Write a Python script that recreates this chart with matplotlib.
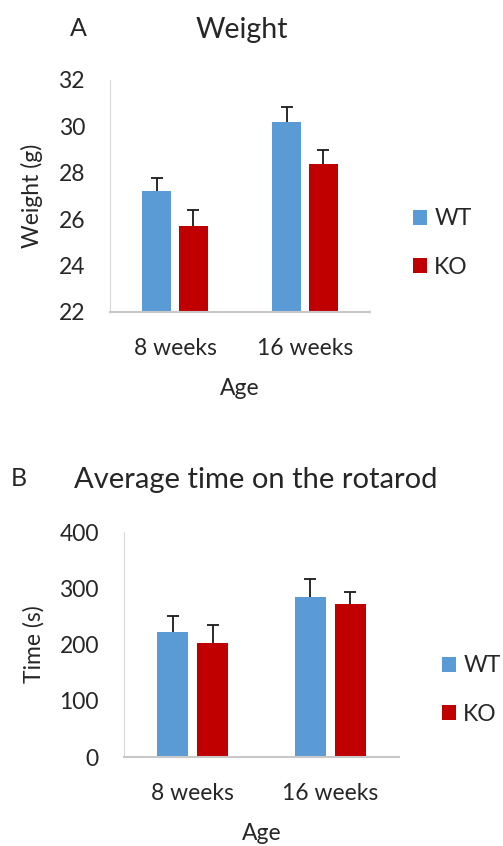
import matplotlib.pyplot as plt
import numpy as np

plt.rcParams['font.family'] = ['Lato', 'DejaVu Sans']

ages = ['8 weeks', '16 weeks']
groups = ['WT', 'KO']
colors = ['#5B9BD5', '#C00000']

# body weight (g), mean and SEM
weight_mean = {'WT': [27.2, 30.2], 'KO': [25.7, 28.4]}
weight_err = {'WT': [0.57, 0.65], 'KO': [0.70, 0.60]}

# rotarod latency (s), mean and SEM
rotarod_mean = {'WT': [222, 284], 'KO': [202, 272]}
rotarod_err = {'WT': [29, 33], 'KO': [33, 22]}

text_col = '#262626'
axis_col = '#D9D9D9'
fs = 16.5


def bar_panel(ax, means, errs, ylim, yticks, ylabel, width, offset):
    x = np.arange(len(ages))
    for i, g in enumerate(groups):
        pos = x + (offset if i else -offset)
        m = np.array(means[g], dtype=float)
        e = np.array(errs[g], dtype=float)
        ax.bar(pos, m, width, color=colors[i], label=g, zorder=2)
        # upper half of the error bar only, cap on top
        ax.errorbar(pos, m, yerr=[np.zeros(len(ages)), e], fmt='none',
                    ecolor='#1a1a1a', elinewidth=1.3, capsize=0, zorder=3)
        ax.plot(pos, m + e, linestyle='none', marker='_', markersize=9,
                markeredgewidth=1.3, color='#1a1a1a', zorder=3)
    ax.set_xlim(-0.5, len(ages) - 0.5)
    ax.set_ylim(*ylim)
    ax.set_yticks(yticks)
    ax.set_xticks(x)
    ax.set_xticklabels(ages)
    ax.tick_params(length=0, labelsize=fs, colors=text_col)
    ax.tick_params(axis='y', pad=18)
    ax.tick_params(axis='x', pad=19)
    for s in ['top', 'right']:
        ax.spines[s].set_visible(False)
    ax.spines['left'].set_color(axis_col)
    ax.spines['bottom'].set_color('#C8C8C8')
    ax.spines['bottom'].set_linewidth(1.5)
    ax.set_ylabel(ylabel, fontsize=fs, color=text_col, labelpad=11)
    ax.set_xlabel('Age', fontsize=fs, color=text_col, labelpad=13.5)


fig = plt.figure(figsize=(5.03, 8.46), dpi=100)

ax1 = fig.add_axes([110 / 503, 1 - 312 / 846, 260 / 503, 232 / 846])
bar_panel(ax1, weight_mean, weight_err, (22, 32), range(22, 33, 2),
          'Weight (g)', 0.223, 0.142)

ax2 = fig.add_axes([124 / 503, 1 - 757 / 846, 275 / 503, 225 / 846])
bar_panel(ax2, rotarod_mean, rotarod_err, (0, 400), range(0, 401, 100),
          'Time (s)', 0.225, 0.145)

# panel letters and titles
fig.text(78 / 503, 1 - 29 / 846, 'A', fontsize=18, color=text_col,
         ha='center', va='center')
fig.text(242 / 503, 1 - 30 / 846, 'Weight', fontsize=20.5, color=text_col,
         ha='center', va='center')
fig.text(19 / 503, 1 - 478 / 846, 'B', fontsize=18, color=text_col,
         ha='center', va='center')
fig.text(256 / 503, 1 - 480 / 846, 'Average time on the rotarod', fontsize=21,
         color=text_col, ha='center', va='center')

leg_kw = dict(loc='center left', frameon=False, fontsize=fs,
              handlelength=0.63, handleheight=0.63, handletextpad=0.3,
              labelspacing=1.18, borderpad=0, borderaxespad=0,
              labelcolor=text_col)
h, l = ax1.get_legend_handles_labels()
fig.legend(h, l, bbox_to_anchor=(413 / 503, 1 - 243 / 846), **leg_kw)
h, l = ax2.get_legend_handles_labels()
fig.legend(h, l, bbox_to_anchor=(442 / 503, 1 - 690 / 846), **leg_kw)

fig.savefig('out.png', dpi=100)
